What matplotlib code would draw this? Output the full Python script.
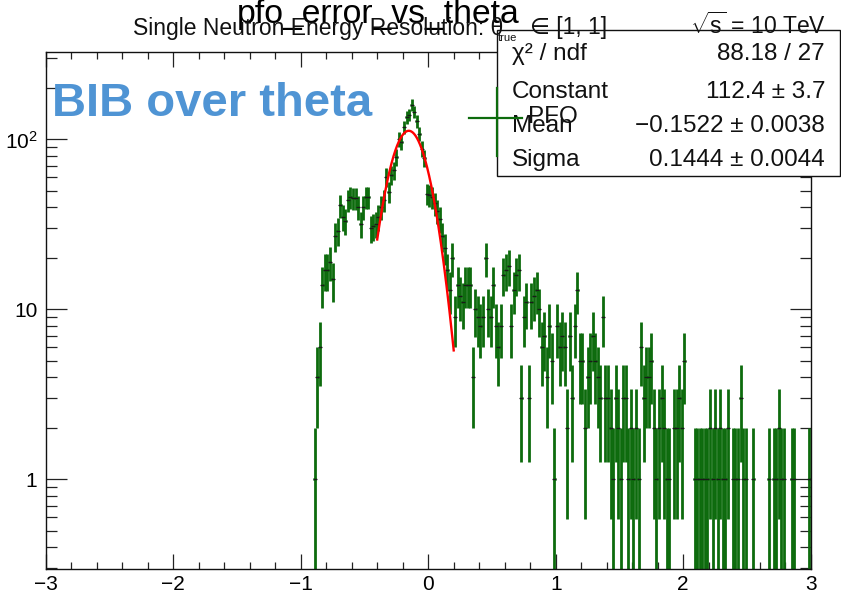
import numpy as np
import matplotlib
matplotlib.use('Agg')
import matplotlib.pyplot as plt
from matplotlib.lines import Line2D
from matplotlib.patches import Rectangle
from matplotlib.ticker import FixedLocator, FixedFormatter, LogLocator, MultipleLocator, NullFormatter

plt.rcParams['font.family'] = ['Liberation Sans', 'DejaVu Sans']
plt.rcParams['mathtext.fontset'] = 'custom'
plt.rcParams['mathtext.rm'] = 'Liberation Sans'
plt.rcParams['mathtext.it'] = 'Liberation Sans:italic'
plt.rcParams['mathtext.bf'] = 'Liberation Sans:bold'

W, H = 841, 596

# histogram: 0.02 wide bins over [-3, 3]; everything below -0.90 is empty
BIN_WIDTH = 0.02
FIRST_EDGE = -0.90
COUNTS = np.array([
    1, 4, 6, 14, 17, 17, 19, 15, 27, 29,          # -0.89 .. -0.71
    41, 35, 33, 44, 46, 45, 45, 40, 32, 40,       # -0.69 .. -0.51
    46, 46, 30, 31, 32, 35, 40, 44, 60, 49,       # -0.49 .. -0.31
    62, 66, 79, 100, 96, 118, 135, 140, 160, 145, # -0.29 .. -0.11
    128, 108, 88, 78, 48, 47, 46, 42, 38, 34,     # -0.09 .. 0.09
    27, 23, 17, 13, 20, 9, 14, 12, 11, 14,        # 0.11 .. 0.29
    14, 14, 4, 10, 9, 8, 9, 20, 10, 9,            # 0.31 .. 0.49
    14, 8, 6, 8, 16, 17, 18, 8, 13, 16,           # 0.51 .. 0.69
    17, 3, 9, 11, 3, 11, 12, 13, 10, 6,           # 0.71 .. 0.89
    7, 4, 8, 5, 1, 8, 6, 7, 6, 2,                 # 0.91 .. 1.09
    7, 3, 8, 13, 5, 5, 2, 4, 5, 7,                # 1.11 .. 1.29
    5, 4, 3, 9, 3, 3, 2, 1, 3, 2,                 # 1.31 .. 1.49
    1, 3, 3, 1, 2, 1, 2, 1, 6, 3,                 # 1.51 .. 1.69
    4, 4, 5, 2, 1, 2, 3, 2, 1, 1,                 # 1.71 .. 1.89
    0, 2, 2, 3, 2, 5, 0, 0, 0, 1,                 # 1.91 .. 2.09
    1, 1, 1, 1, 1, 2, 1, 2, 1, 2,                 # 2.11 .. 2.29
    1, 1, 2, 0, 1, 1, 1, 3, 1, 1,                 # 2.31 .. 2.49
    0, 0, 1, 0, 0, 0, 0, 0, 1, 0,                 # 2.51 .. 2.69
    1, 1, 2, 1, 1, 0, 0, 1, 1, 0,                 # 2.71 .. 2.89
    0, 0, 0, 0, 1,                                # 2.91 .. 2.99
])

# gaussian fit result
FIT_RANGE = (-0.4, 0.2)
FIT_CHI2, FIT_NDF = 88.18, 27
FIT_CONST, FIT_CONST_ERR = 112.4, 3.7
FIT_MEAN, FIT_MEAN_ERR = -0.1522, 0.0038
FIT_SIGMA, FIT_SIGMA_ERR = 0.1444, 0.0044

X_TICKS = [-3, -2, -1, 0, 1, 2, 3]
Y_TICKS = [1, 10, 100]
Y_TICK_LABELS = ['1', '10', r'$10^{2}$']

GREEN = '#0d6b0d'


def fx(px):
    return px / W


def fy(py):
    return 1 - py / H


def fmt(v, nd):
    return f'{v:.{nd}f}'.replace('-', '\u2212')


fig = plt.figure(figsize=(W / 100, H / 100), dpi=100)
fig.patch.set_facecolor('white')

ax = fig.add_axes([fx(45.7), fy(569.3), fx(810.7) - fx(45.7), fy(51.5) - fy(569.3)])

# data points with poisson errors
centers = FIRST_EDGE + BIN_WIDTH * (np.arange(len(COUNTS)) + 0.5)
mask = COUNTS > 0
cnt = COUNTS[mask].astype(float)
xc = centers[mask]
err = np.sqrt(cnt)
err_lo = np.minimum(err, cnt - 1e-3)
ax.errorbar(xc, cnt, xerr=BIN_WIDTH / 2, yerr=[err_lo, err], fmt='none',
            ecolor=GREEN, elinewidth=2.0, capsize=0, zorder=2)
ax.plot(xc, cnt, ls='none', marker='_', ms=3, mew=0.9, color='#1a1a1a', zorder=3)

# fit curve
xf = np.linspace(FIT_RANGE[0], FIT_RANGE[1], 300)
yf = FIT_CONST * np.exp(-0.5 * ((xf - FIT_MEAN) / FIT_SIGMA) ** 2)
ax.plot(xf, yf, color='red', lw=1.7, zorder=4)

ax.set_xlim(-3, 3)
ax.set_yscale('log')
ax.set_ylim(0.296, 329)

ax.xaxis.set_major_locator(FixedLocator(X_TICKS))
ax.xaxis.set_minor_locator(MultipleLocator(0.2))
ax.yaxis.set_major_locator(FixedLocator(Y_TICKS))
ax.yaxis.set_major_formatter(FixedFormatter(Y_TICK_LABELS))
ax.yaxis.set_minor_locator(LogLocator(base=10, subs=np.arange(2, 10)))
ax.yaxis.set_minor_formatter(NullFormatter())

ax.tick_params(which='both', direction='in', top=True, right=True,
               labelsize=15, width=0.9, color='#222222')
ax.tick_params(axis='x', which='major', length=10.8, pad=4)
ax.tick_params(axis='x', which='minor', length=5)
ax.tick_params(axis='y', which='major', length=15, pad=6)
ax.tick_params(axis='y', which='minor', length=8)
for s in ax.spines.values():
    s.set_linewidth(1.0)
    s.set_color('#111111')

# headers
fig.text(fx(378.5), fy(23), 'pfo_error_vs_theta', ha='center', va='baseline',
         fontsize=24.3, color='black')
fig.text(fx(133), fy(35), 'Single Neutron Energy Resolution: \u03b8', ha='left',
         va='baseline', fontsize=16.5, color='#111111')
fig.text(fx(498), fy(41), 'true', ha='left', va='baseline', fontsize=8,
         color='#111111')
fig.text(fx(530), fy(34), '\u2208 [1, 1]', ha='left', va='baseline',
         fontsize=16.5, color='#111111')
fig.text(fx(690), fy(34), r'$\sqrt{\mathrm{s}}$ = 10 TeV', ha='left', va='baseline',
         fontsize=16.5, color='#111111')

# stats box
fig.add_artist(Rectangle((fx(497), fy(176)), fx(840) - fx(497), fy(30) - fy(176),
                         transform=fig.transFigure, facecolor='white',
                         edgecolor='#111111', lw=1.0, zorder=1))
stat_rows = [
    ('\u03c7\u00b2 / ndf', f'{FIT_CHI2:.2f} / {FIT_NDF}', 60),
    ('Constant', f'{fmt(FIT_CONST, 1)} \u00b1 {fmt(FIT_CONST_ERR, 1)}', 98),
    ('Mean', f'{fmt(FIT_MEAN, 4)} \u00b1 {fmt(FIT_MEAN_ERR, 4)}', 132),
    ('Sigma', f'{fmt(FIT_SIGMA, 4)} \u00b1 {fmt(FIT_SIGMA_ERR, 4)}', 166),
]
for name, val, by in stat_rows:
    fig.text(fx(512), fy(by), name, ha='left', va='baseline', fontsize=17.5,
             color='#111111', zorder=2)
    fig.text(fx(825), fy(by), val, ha='right', va='baseline', fontsize=17.5,
             color='#111111', zorder=2)

# legend entry, drawn over the stats box
fig.add_artist(Line2D([fx(469), fx(522)], [fy(118), fy(118)], color=GREEN,
                      lw=1.6, transform=fig.transFigure, zorder=3))
fig.add_artist(Line2D([fx(497), fx(497)], [fy(88), fy(156)], color=GREEN,
                      lw=1.6, transform=fig.transFigure, zorder=3))
fig.text(fx(528), fy(123), 'PFO', ha='left', va='baseline', fontsize=17.5,
         color='#111111', zorder=3)

fig.text(fx(52), fy(116), 'BIB over theta', ha='left', va='baseline',
         fontsize=34, fontweight='bold', color='#4f94d4', zorder=4)

fig.savefig('out.png', dpi=100, facecolor='white')
